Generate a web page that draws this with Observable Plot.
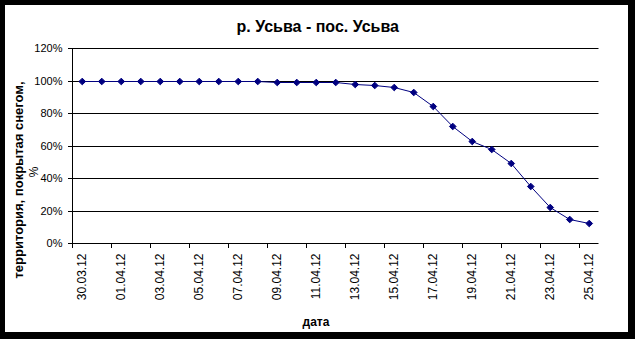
<!DOCTYPE html>
<html><head><meta charset="utf-8">
<script src="https://cdn.jsdelivr.net/npm/d3@7"></script>
<script src="https://cdn.jsdelivr.net/npm/@observablehq/plot@0.6"></script>
<style>
html,body{margin:0;padding:0;background:#000;width:635px;height:339px;overflow:hidden;}
#frame{position:absolute;left:5px;top:5px;width:623px;height:327px;background:#fff;overflow:hidden;}
</style></head><body>
<div id="frame"></div>
<script>
const title = "р. Усьва - пос. Усьва";
const yTitleLine1 = "территория, покрытая снегом,";
const yTitleLine2 = "%";
const xTitle = "дата";
const dates = ["30.03.12","31.03.12","01.04.12","02.04.12","03.04.12","04.04.12","05.04.12","06.04.12","07.04.12","08.04.12","09.04.12","10.04.12","11.04.12","12.04.12","13.04.12","14.04.12","15.04.12","16.04.12","17.04.12","18.04.12","19.04.12","20.04.12","21.04.12","22.04.12","23.04.12","24.04.12","25.04.12"];
const snowCover = [100,100,100,100,100,100,100,100,100,100,99,99,99,99,98,97.5,96,93,84.5,72,63,58,49.5,35,22,14.5,12.5];
const yTicks = [0,20,40,60,80,100,120];

const parse = d3.utcParse("%d.%m.%y");
const DAY = 864e5;
const data = dates.map((d, i) => ({date: new Date(+parse(d) + DAY / 2), value: snowCover[i]}));
const start = parse(dates[0]);
const end = new Date(+parse(dates[dates.length - 1]) + DAY);
const every2 = dates.filter((d, i) => i % 2 === 0);
const boundaries = every2.map(parse);
const labelDates = every2.map(d => new Date(+parse(d) + DAY / 2));
const fmt = d3.utcFormat("%d.%m.%y");

const chart = Plot.plot({
  width: 623, height: 327,
  marginTop: 43, marginLeft: 67, marginRight: 29.5, marginBottom: 89,
  style: {fontFamily: "'Liberation Sans', Arial, sans-serif", fontSize: "11px", color: "#000", background: "#fff"},
  x: {type: "utc", domain: [start, end]},
  y: {domain: [0, 120], round: true},
  marks: [
    Plot.gridY(yTicks.filter(d => d > 0), {stroke: "#000", strokeOpacity: 1, strokeWidth: 1}),
    Plot.ruleY([0], {stroke: "#000"}),
    Plot.ruleX([start], {y1: 0, y2: 120, stroke: "#000"}),
    Plot.axisY(yTicks, {tickSize: 4, tickPadding: 6, tickFormat: d => d + "%", label: null, fontSize: 11}),
    Plot.axisX(boundaries, {tickSize: 5, tickFormat: () => "", label: null}),
    Plot.axisX(labelDates, {tickSize: 0, tickPadding: 10, tickRotate: -90, tickFormat: fmt, label: null, fontSize: 12}),
    Plot.line(data, {x: "date", y: "value", stroke: "#000080", strokeWidth: 1}),
    Plot.dot(data, {x: "date", y: "value", symbol: "diamond2", r: 3, fill: "#000080", stroke: "#000080", strokeWidth: 1}),
    Plot.text([title], {frameAnchor: "top", dx: -18, dy: -21.5, lineAnchor: "middle", fontSize: 16, fontWeight: "bold"}),
    Plot.text([xTitle], {frameAnchor: "bottom", dx: -19.75, dy: 79, lineAnchor: "middle", fontSize: 12, fontWeight: "bold"}),
    Plot.text([yTitleLine1], {frameAnchor: "left", dx: -54, dy: 34, rotate: -90, textAnchor: "middle", lineAnchor: "middle", fontSize: 13, fontWeight: "bold"}),
    Plot.text([yTitleLine2], {frameAnchor: "left", dx: -38, dy: 26, rotate: -90, textAnchor: "middle", lineAnchor: "middle", fontSize: 12})
  ]
});
document.getElementById("frame").appendChild(chart);
</script>
</body></html>
